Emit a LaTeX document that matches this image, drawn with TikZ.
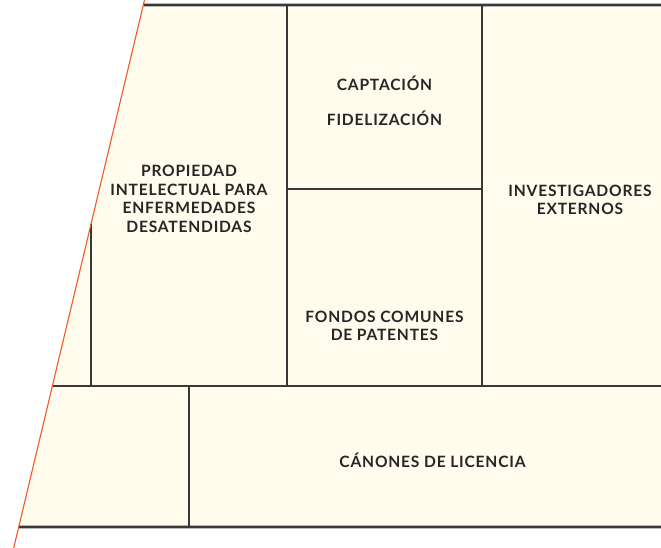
\documentclass[tikz,border=0pt]{standalone}
\usepackage{fontspec}
\setmainfont{Lato}[LetterSpace=5]
\usetikzlibrary{calc}
\definecolor{ink}{HTML}{262626}
\definecolor{rule}{HTML}{383838}
\definecolor{cream}{HTML}{FFFCEE}
\definecolor{flame}{HTML}{F05A24}
\tikzset{
cell/.style={draw=rule,line width=1.6pt},
edge/.style={draw=rule,line width=2.6pt},
slant/.style={draw=flame,line width=1.1pt},
tag/.style={font=\fontsize{15.6}{18.5}\selectfont\bfseries,text=ink,align=center,inner sep=0pt}}
\begin{document}
\begin{tikzpicture}[x=1pt,y=-1pt]
\useasboundingbox (0,0) rectangle (661,548);
% slanted left edge
\coordinate (s0) at (144.5,0);
\coordinate (s1) at (13.7,548);
\coordinate (tl) at ($(s0)!5/548!(s1)$);
\coordinate (ml) at ($(s0)!386/548!(s1)$);
\coordinate (bl) at ($(s0)!527/548!(s1)$);
\coordinate (ip) at ($(s0)!224/548!(s1)$);
\fill[cream] (tl) -- (661,5) -- (661,527) -- (bl) -- cycle;
% cells
\draw[cell] (287,5) -- (287,386);
\draw[cell] (482,5) -- (482,386);
\draw[cell] (287,189) -- (482,189);
\draw[cell] (ip) -- (91,386);
\draw[cell] (ml) -- (661,386);
\draw[cell] (189,386) -- (189,527);
\draw[edge] (tl) -- (661,5);
\draw[edge] (bl) -- (661,527);
\draw[slant] (s0) -- (s1);
% labels
\node[tag] (ipnd) at (189,199) {PROPIEDAD\\INTELECTUAL PARA\\ENFERMEDADES\\DESATENDIDAS};
\node[tag] (capt) at (384.5,83) {CAPTACIÓN};
\node[tag] (fidel) at (384.5,118) {FIDELIZACIÓN};
\node[tag] (pool) at (384.5,326) {FONDOS COMUNES\\DE PATENTES};
\node[tag] (extres) at (580,200) {INVESTIGADORES\\EXTERNOS};
\node[tag] (royal) at (432.5,460) {CÁNONES DE LICENCIA};
\end{tikzpicture}
\end{document}
